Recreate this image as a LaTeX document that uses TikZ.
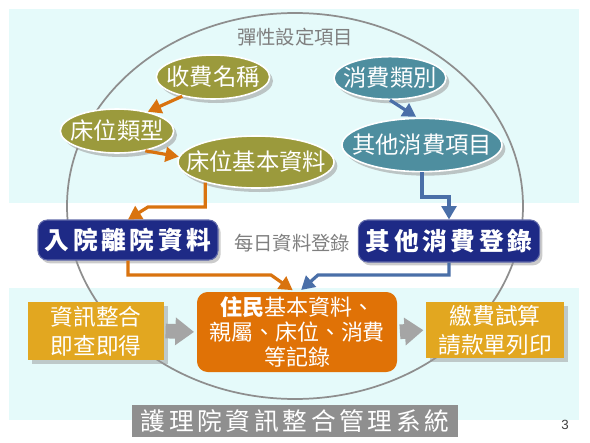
\documentclass[tikz,border=0pt]{standalone}
\usepackage{fontspec}
\setmainfont{Liberation Sans}
\newfontfamily\cjk{Noto Sans CJK TC}
\newfontfamily\cjkwide[LetterSpace=15]{Noto Sans CJK TC}
\usetikzlibrary{arrows.meta, shapes.geometric, shadows}
\definecolor{bandcyan}{HTML}{E5FAFA}
\definecolor{ringgray}{HTML}{8E8E8E}
\definecolor{oliveell}{HTML}{9B9A3C}
\definecolor{tealell}{HTML}{4E8E9F}
\definecolor{arrorange}{HTML}{D9730F}
\definecolor{arrblue}{HTML}{4A6FA8}
\definecolor{navybox}{HTML}{1E2A86}
\definecolor{recorange}{HTML}{E07206}
\definecolor{goldbox}{HTML}{E2A720}
\definecolor{blockgray}{HTML}{A5A5A5}
\definecolor{labelgray}{HTML}{8F8F8F}
\definecolor{textgray}{HTML}{7F7F7F}

\tikzset{
  setting/.style={ellipse, draw=white, line width=1.2pt, inner sep=0pt, inner xsep=-12pt,
    text=white, font=\cjk\fontsize{17.5}{19}\selectfont,
    drop shadow={shadow xshift=2.5pt, shadow yshift=-3pt, fill=black!40, opacity=0.55}},
  entrybox/.style={rectangle, rounded corners=7pt, fill=navybox, draw=navybox!70!white, line width=0.8pt,
    inner sep=0pt, text=white, font=\cjkwide\bfseries\fontsize{18.5}{20}\selectfont,
    drop shadow={shadow xshift=2pt, shadow yshift=-2.5pt, fill=black!40, opacity=0.5}},
  sidebox/.style={rectangle, fill=goldbox, inner sep=0pt, align=center, text=white,
    font=\cjk\fontsize{17}{21.75}\selectfont,
    drop shadow={shadow xshift=3pt, shadow yshift=-3pt, fill=black!40, opacity=0.5}},
  titletext/.style={text=textgray, font=\cjk\fontsize{14.5}{16}\selectfont},
  orangearr/.style={draw=arrorange, line width=2.4pt, -{Triangle[length=10pt,width=11pt]}},
  bluearr/.style={draw=arrblue, line width=2.4pt, -{Triangle[length=10pt,width=11pt]}},
  blockarr/.style={draw=blockgray, line width=11pt, -{Triangle[length=14pt,width=20pt]}}
}

\begin{document}
\begin{tikzpicture}[x=0.75pt, y=-0.75pt]

% Canvas
\useasboundingbox (0,0) rectangle (590,443);
\fill[white] (0,0) rectangle (590,443);

% Bands and ring
\fill[bandcyan] (9,9) rectangle (579,203);
\fill[bandcyan] (9,288) rectangle (579,420);
\draw[ringgray, line width=1.3pt] (295,206) ellipse [x radius=228, y radius=193];

% Titles
\node[titletext] (flex) at (295,37) {彈性設定項目};
\node[titletext] (daily) at (292,243) {每日資料登錄};

% Setting items
\node[setting, fill=oliveell, minimum width=85pt, minimum height=33pt] (fee) at (213,77) {收費名稱};
\node[setting, fill=oliveell, minimum width=85pt, minimum height=33pt] (bedtype) at (117,131) {床位類型};
\node[setting, fill=oliveell, minimum width=117pt, minimum height=39pt] (bedinfo) at (256,162) {床位基本資料};
\node[setting, fill=tealell, minimum width=84pt, minimum height=32pt] (category) at (390,78) {消費類別};
\node[setting, fill=tealell, minimum width=120pt, minimum height=40pt] (otheritem) at (422,145) {其他消費項目};

% Daily entry
\node[entrybox, minimum width=135pt, minimum height=30pt] (admit) at (128,240) {入院離院資料};
\node[entrybox, minimum width=136pt, minimum height=31.5pt] (consume) at (449,241) {其他消費登錄};

% Records
\node[rectangle, rounded corners=8pt, fill=recorange, minimum width=150pt, minimum height=60pt,
  inner sep=0pt, align=center, text=white, font=\cjk\fontsize{16.5}{19}\selectfont]
  (record) at (297,332) {\textbf{住民}基本資料、\\親屬、床位、消費\\等記錄};
\node[sidebox, minimum width=102pt, minimum height=43.5pt] (info) at (96,331) {資訊整合\\即查即得};
\node[sidebox, minimum width=103pt, minimum height=42pt] (payment) at (495,330) {繳費試算\\請款單列印};

% Bend points
\coordinate (obend) at (148,207);
\coordinate (bbend) at (449,197);
\coordinate (ocorner) at (271,275);
\coordinate (bcorner) at (318,275);

% Connectors
\draw[orangearr] (fee.212) -- (bedtype.32);
\draw[orangearr] (bedtype.-35) -- (bedinfo.176);
\draw[orangearr] (bedinfo.202) |- (obend) -- (admit.north);
\draw[bluearr, shorten >=1pt] (category.south) -- (otheritem.100);
\draw[bluearr] (otheritem.south) |- (bbend) -- (consume.north);
\draw[orangearr, shorten >=2pt] (admit.south) |- (ocorner) -- (record.93);
\draw[bluearr, shorten >=2pt] (consume.south) |- (bcorner) -- (record.87);
\draw[blockarr, shorten <=1pt, shorten >=2pt] (info.east) -- (record.west);
\draw[blockarr, shorten <=2pt, shorten >=2pt] (record.east) -- (payment.west);

% System label and page number
\node[rectangle, fill=labelgray, minimum width=244pt, minimum height=24.5pt, inner sep=0pt,
  text=white, font=\cjkwide\fontsize{18.5}{20}\selectfont] (system) at (295,421) {護理院資訊整合管理系統};
\node[text=black!75, font=\fontsize{10}{12}\selectfont] (pagenum) at (565,425) {3};

\end{tikzpicture}
\end{document}
